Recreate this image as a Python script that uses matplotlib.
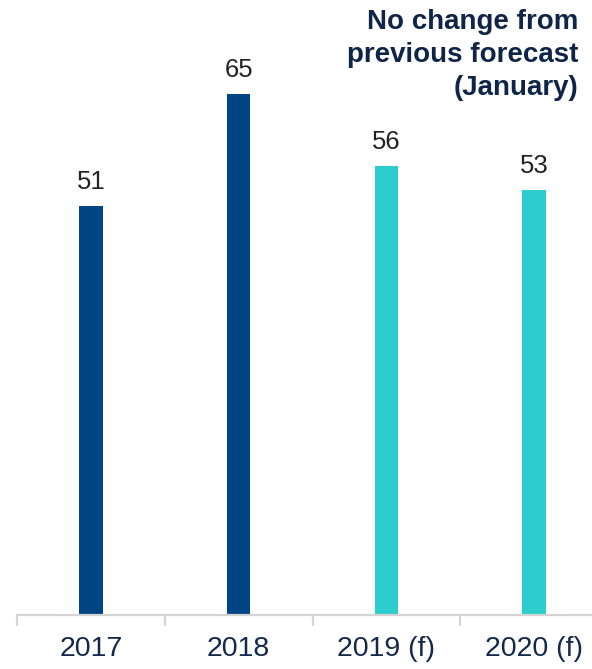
import matplotlib.pyplot as plt

# yearly values, last two are forecasts
years = ['2017', '2018', '2019 (f)', '2020 (f)']
values = [51, 65, 56, 53]
bar_colors = ['#004583', '#004583', '#2ecdcd', '#2ecdcd']

plt.rcParams['font.family'] = ['Liberation Sans', 'DejaVu Sans']

fig = plt.figure(figsize=(5.92, 6.69), dpi=100)
ax = fig.add_axes([17 / 592, 54 / 669, 591 / 592, 0.898])

x = range(len(years))
bars = ax.bar(x, values, width=0.16, color=bar_colors)
for rect, v in zip(bars, values):
    ax.text(rect.get_x() + rect.get_width() / 2, v + 1.6, str(v),
            ha='center', va='bottom', fontsize=18.5, color='#222222')

ax.set_xlim(-0.5, 3.5)
ax.set_ylim(0, 75)
ax.set_yticks([])
for side in ['left', 'right', 'top']:
    ax.spines[side].set_visible(False)
ax.spines['bottom'].set_color('#d4d4d4')
ax.spines['bottom'].set_linewidth(1.6)

# category labels centred, tick marks on the boundaries
ax.set_xticks(list(x))
ax.set_xticklabels(years, fontsize=20.5, color='#14284b')
ax.tick_params(axis='x', which='major', length=0, pad=15)
ax.set_xticks([i - 0.5 for i in range(len(years) + 1)], minor=True)
ax.tick_params(axis='x', which='minor', length=8, width=1.6, color='#d4d4d4')

fig.text(578 / 592, 1 - 9 / 669, 'No change from\nprevious forecast\n(January)',
         ha='right', va='top', fontsize=20, fontweight='bold',
         color='#0f2447', linespacing=1.34)

fig.savefig('out.png', dpi=100)
